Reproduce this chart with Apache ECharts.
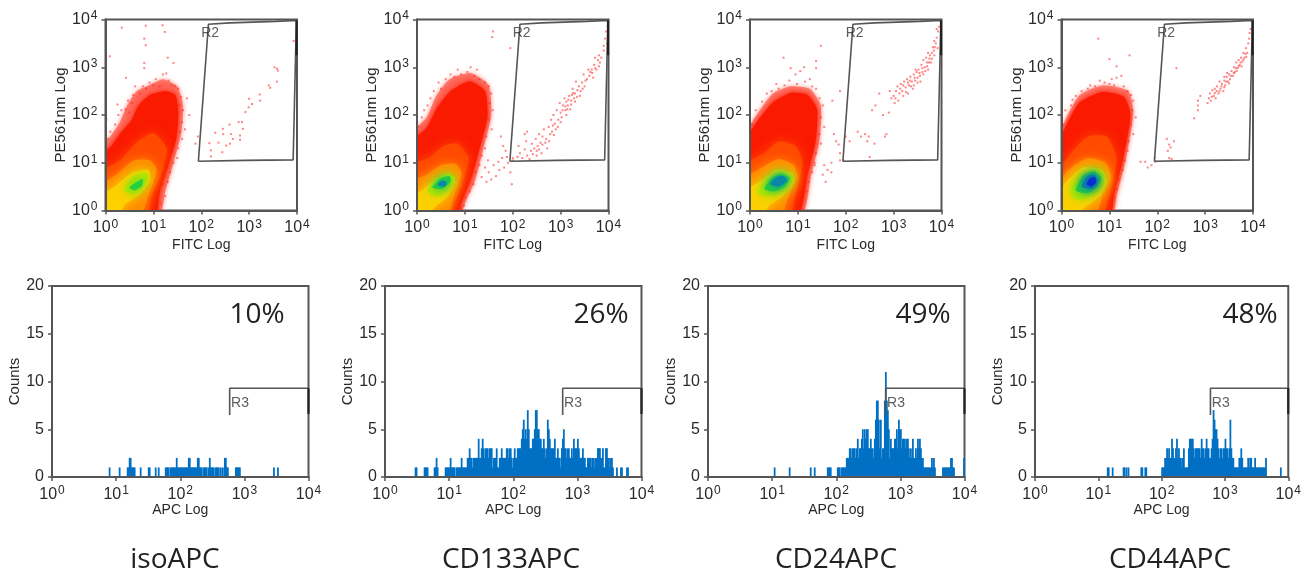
<!DOCTYPE html>
<html><head><meta charset="utf-8">
<style>html,body{margin:0;background:#fff}#c{width:1304px;height:571px;filter:blur(.45px)}</style>
<script src="https://cdn.jsdelivr.net/npm/echarts@6/dist/echarts.min.js"></script>
</head><body><div id="c"></div>
<script>
// ---- text
const captions=['isoAPC','CD133APC','CD24APC','CD44APC'];
const percents=['10%','26%','49%','48%'];
const decadeTicks=[1,10,100,1000,10000];
// ---- density bands, outermost first: [log10 FITC, log10 PE561nm]
const bandColors=['#ff3a28','#fa1a00','#ff4a00','#ff8c00','#fdd000','#b8e400','#22d040','#0a86a8','#0a30d0'];
const isoBands=[
[[-.1,-.1],[-.1,1.3],[.1,1.55],[.3,1.85],[.45,2.2],[.65,2.5],[.9,2.62],[1.2,2.75],[1.5,2.6],[1.62,2.2],[1.58,1.6],[1.42,1.0],[1.25,.4],[1.12,-.1]],
[[-.1,-.1],[-.1,1.12],[.13,1.36],[.30,1.6],[.55,1.9],[.69,2.2],[.93,2.42],[1.24,2.5],[1.46,2.42],[1.52,2.03],[1.47,1.47],[1.3,.91],[1.14,.42],[1.02,-.1]],
[[-.1,-.1],[-.1,.78],[.3,1.05],[.65,1.42],[1.0,1.62],[1.28,1.3],[1.18,.8],[.95,.28],[.88,-.1]],
[[-.1,-.1],[-.1,.5],[.27,.78],[.6,1.05],[.93,1.05],[1.07,.84],[.93,.42],[.72,-.1]],
[[-.1,-.1],[-.1,.28],[.25,.55],[.58,.8],[.9,.85],[.93,.62],[.72,.34],[.42,.14],[.25,-.1]],
[[.38,.42],[.55,.66],[.8,.8],[.9,.7],[.75,.45],[.55,.35]],
[[.5,.48],[.66,.6],[.78,.66],[.76,.52],[.6,.42]]];
const cd133Bands=[
[[-.1,-.1],[-.1,1.62],[.2,1.95],[.4,2.4],[.68,2.75],[1.12,2.88],[1.5,2.62],[1.55,2.0],[1.4,1.35],[1.22,.65],[1.0,.15],[.9,-.1]],
[[-.1,-.1],[-.1,1.45],[.2,1.72],[.42,2.15],[.7,2.5],[1.1,2.7],[1.42,2.5],[1.47,1.95],[1.32,1.35],[1.14,.7],[.94,.2],[.82,-.1]],
[[-.1,-.1],[-.1,.95],[.25,1.1],[.55,1.35],[.85,1.4],[1.08,1.1],[.95,.6],[.78,.15],[.7,-.1]],
[[-.1,-.1],[-.1,.6],[.2,.75],[.5,.95],[.8,.98],[.93,.8],[.8,.4],[.62,-.1]],
[[-.1,-.1],[-.1,.3],[.15,.45],[.4,.68],[.7,.75],[.8,.6],[.65,.3],[.4,.1],[.2,-.1]],
[[.22,.4],[.4,.65],[.65,.78],[.8,.68],[.62,.42],[.4,.3]],
[[.32,.48],[.48,.66],[.68,.72],[.7,.6],[.52,.45]],
[[.43,.53],[.5,.62],[.62,.6],[.58,.5]]];
const cd24Bands=[
[[-.1,-.1],[-.1,1.58],[.15,2.02],[.48,2.45],[.85,2.6],[1.25,2.55],[1.48,2.2],[1.45,1.45],[1.28,.75],[1.08,-.1]],
[[-.1,-.1],[-.1,1.45],[.15,1.86],[.48,2.26],[.85,2.46],[1.2,2.42],[1.4,2.12],[1.37,1.45],[1.2,.75],[1.0,-.1]],
[[-.1,-.1],[-.1,.95],[.3,1.2],[.6,1.45],[.95,1.35],[1.1,1.0],[.98,.5],[.82,-.1]],
[[-.1,-.1],[-.1,.65],[.25,.9],[.6,1.08],[.92,.95],[.98,.7],[.8,.3],[.65,-.1]],
[[-.1,-.1],[-.1,.4],[.2,.6],[.55,.85],[.88,.78],[.92,.6],[.7,.32],[.42,.12],[.25,-.1]],
[[.15,.38],[.38,.68],[.62,.82],[.9,.72],[.85,.55],[.6,.37],[.32,.3]],
[[.3,.45],[.45,.68],[.65,.77],[.83,.68],[.72,.5],[.5,.4]],
[[.42,.55],[.55,.7],[.7,.72],[.78,.63],[.6,.5]]];
const cd44Bands=[
[[-.1,-.1],[-.1,1.42],[.12,1.98],[.38,2.42],[.85,2.62],[1.4,2.5],[1.5,2.05],[1.35,1.1],[1.15,.3],[1.05,-.1]],
[[-.1,-.1],[-.1,1.3],[.12,1.82],[.38,2.26],[.85,2.48],[1.3,2.38],[1.44,2.0],[1.29,1.1],[1.1,.35],[1.0,-.1]],
[[-.1,-.1],[-.1,.75],[.2,1.2],[.55,1.55],[.95,1.55],[1.15,1.1],[1.05,.55],[.85,-.1]],
[[-.1,-.1],[-.1,.5],[.15,.85],[.55,1.1],[.92,1.0],[1.03,.7],[.85,.3],[.7,-.1]],
[[-.05,-.1],[-.1,.25],[.1,.6],[.45,.9],[.85,.85],[.95,.6],[.8,.3],[.5,.08],[.3,-.1]],
[[.18,.4],[.4,.72],[.68,.88],[.9,.75],[.85,.5],[.6,.3],[.32,.22]],
[[.3,.42],[.45,.72],[.68,.82],[.83,.68],[.75,.5],[.55,.36]],
[[.42,.5],[.52,.7],[.68,.76],[.76,.62],[.65,.46]],
[[.52,.55],[.6,.68],[.7,.7],[.72,.58],[.62,.5]]];
// ---- individual events, [log10 FITC, log10 PE561nm]
const isoEvents=[[.34,3.83],[.84,3.87],[1.19,3.88],[1.24,3.74],[.81,3.6],[.84,3.46],[.81,3.09],[.81,2.98],[.09,3.23],[1.3,3.2],[1.42,3.09],[.43,2.78],
[.05,1.5],[.02,1.9],[.1,1.65],[.2,1.8],[.27,2.0],[.25,2.22],[.33,2.1],[.42,2.12],[.47,2.3],[.55,2.25],[.58,2.42],[.62,2.6],[.5,2.05],[.72,2.45],[.78,2.6],[.85,2.55],[.92,2.68],[1.0,2.62],[1.05,2.75],[1.13,2.6],[1.2,2.85],[1.27,2.87],[1.32,2.72],[1.38,2.62],[1.45,2.6],[1.52,2.55],[1.58,2.38],[1.55,2.2],[1.62,2.1],[1.7,2.35],[1.75,2.0],[1.6,1.85],[1.66,1.7],[1.55,1.65],[1.6,1.5],[1.52,1.3],[1.5,1.1],[1.42,1.0],[1.35,.8],[1.3,.6],[1.2,.55],[1.25,.3],[1.15,.15],[1.1,.05],[1.88,1.4],[1.93,1.55],
[3.93,3.55],[3.53,3.0],[3.58,2.97],[3.6,2.93],[3.58,2.7],[3.41,2.62],[3.44,2.57],[3.22,2.43],[3.23,2.3],[3.0,2.34],[3.06,2.23],[2.99,2.16],[2.92,2.06],[2.78,1.85],[2.85,1.85],[2.87,1.71],[2.59,1.8],[2.45,1.71],[2.46,1.6],[2.29,1.63],[2.62,1.6],[2.66,1.5],[2.81,1.57],[2.81,1.48],[2.17,1.41],[2.36,1.42],[2.52,1.36],[2.6,1.4],[2.2,1.26],[2.44,1.22],[2.2,1.13]];
const cd133Events=[[1.59,3.75],[1.57,3.63],[1.95,3.4],[1.12,3.0],[1.25,2.95],[1.05,2.9],[.85,2.95],[.7,2.85],[.6,2.75],[.45,2.68],[.35,2.5],[.28,2.35],[.22,2.2],[.15,2.1],[.1,1.95],[.03,1.75],[.5,2.55],[.78,2.8],[.92,2.85],[1.2,2.82],[1.3,2.75],[1.42,2.68],[1.5,2.6],[1.55,2.45],[1.52,2.25],[1.58,2.1],[1.5,1.9],[1.56,1.7],[1.45,1.55],[1.42,1.3],[1.35,1.15],[1.3,.95],[1.22,.8],[1.18,.55],[1.1,.4],[1.0,.28],[.98,.1],[.92,.05],
[1.8,1.35],[1.75,1.55],[1.85,1.25],[1.6,.95],[1.5,.8],[1.55,.65],[1.65,.72],[1.72,.85],[1.82,.9],[1.9,1.0],[1.95,.8],[2.0,1.05],[1.98,.55],[1.45,.6],[1.35,.7],[1.42,.9],[1.48,1.05],[1.7,1.02],[1.78,1.1],[1.88,1.12],
[2.0,1.1],[2.1,1.12],[2.15,1.2],[2.2,1.1],[2.12,1.35],[2.25,1.28],[2.28,1.45],[2.3,1.65],[2.25,1.6],[2.3,1.15],[2.38,1.25],[2.4,1.4],[2.42,1.18],[2.48,1.5],[2.5,1.25],[2.52,1.35],[2.55,1.6],[2.58,1.42],[2.6,1.2],[2.62,1.55],[2.65,1.7],[2.7,1.5],[2.72,1.3],[2.75,1.75],[2.78,1.6],[2.8,1.9],[2.82,1.65],[2.85,2.0],[2.88,1.82],[2.9,1.7],[2.92,2.1],[2.95,1.9],[2.98,2.25],[3.0,2.05],[3.02,1.95],[3.05,2.2],[3.08,2.35],[3.1,2.1],[3.12,2.28],[3.15,2.2],[3.18,2.4],[3.2,2.12],[3.22,2.3],[3.25,2.55],[3.28,2.35],[3.3,2.45],[3.32,2.7],[3.35,2.52],[3.38,2.6],[3.4,2.4],[3.45,2.68],[3.48,2.85],[3.5,2.6],[3.55,2.75],[3.58,2.95],[3.62,2.9],[3.68,2.78],[3.7,3.05],[3.75,2.95],[3.78,3.15],[3.82,3.1],[3.72,3.2],[3.85,3.2],[3.9,3.45],[3.93,3.6],[3.95,3.75],[3.9,3.35],[3.98,3.85],[3.97,3.5],
[2.35,1.08],[2.45,1.3],[2.55,1.28],[2.5,1.15],[2.68,1.42],[2.62,1.38],[2.76,1.45],[2.84,1.78],[2.86,1.58],[2.94,1.75],[3.0,1.85],[3.04,2.1],[3.1,2.18],[3.14,2.12],[3.16,2.32],[3.22,2.22],[3.24,2.42],[3.3,2.28],[3.34,2.38],[3.42,2.5],[3.46,2.55],[3.52,2.72],[3.6,2.82],[3.65,2.95],[3.66,2.88],[3.72,2.98],[3.8,3.02],[3.8,3.25],[3.26,2.46],[3.12,2.0]];
const cd24Events=[[.7,3.2],[1.48,3.45],[1.38,3.13],[1.38,2.98],[1.13,3.0],[1.05,2.92],[.95,2.85],[.85,2.98],[.82,2.72],[.55,2.65],[.6,2.55],[.35,2.45],[.25,2.28],[.12,2.1],[.05,1.8],[.45,2.5],[.72,2.62],[.98,2.65],[1.15,2.7],[1.25,2.75],[1.3,2.6],[1.38,2.55],[1.45,2.35],[1.52,2.2],[1.48,1.95],[1.55,1.75],[1.45,1.6],[1.48,1.4],[1.38,1.2],[1.35,.95],[1.3,.8],[1.22,.6],[1.18,.4],[1.1,.2],[1.05,.05],[1.72,2.3],[1.75,1.6],[1.8,1.45],[1.85,1.38],[1.7,1.0],[1.7,.8],[1.62,.85],[1.52,.75],[1.58,.6],[1.55,.95],[1.35,1.0],[1.88,1.2],[1.88,1.05],[1.95,1.05],[1.88,2.5],
[2.5,1.12],[2.45,1.45],[2.4,1.6],[2.32,1.55],[2.25,1.65],[2.48,1.55],[2.6,1.4],[2.82,1.55],[2.85,1.6],[2.55,2.1],[2.62,2.2],[2.7,2.45],[2.78,2.0],[2.9,2.05],[2.95,2.35],[2.92,2.5],[2.08,1.45],[2.0,1.55],
[3.0,2.4],[3.02,2.25],[3.05,2.5],[3.08,2.6],[3.1,2.3],[3.12,2.45],[3.15,2.65],[3.18,2.5],[3.2,2.4],[3.22,2.7],[3.25,2.58],[3.28,2.75],[3.3,2.45],[3.32,2.62],[3.35,2.8],[3.38,2.7],[3.4,2.55],[3.42,2.85],[3.45,2.72],[3.48,2.9],[3.5,2.78],[3.52,2.95],[3.55,2.82],[3.58,3.05],[3.6,2.9],[3.62,3.15],[3.65,3.0],[3.68,3.2],[3.7,3.1],[3.72,3.3],[3.75,3.18],[3.78,3.1],[3.8,3.3],[3.82,3.42],[3.85,3.25],[3.88,3.5],[3.9,3.62],[3.92,3.4],[3.93,3.75],[3.95,3.85],[3.9,3.8],[3.85,3.55],
[3.04,2.35],[3.14,2.55],[3.2,2.62],[3.26,2.48],[3.3,2.68],[3.36,2.6],[3.42,2.62],[3.44,2.78],[3.5,2.68],[3.54,2.88],[3.56,2.7],[3.6,2.98],[3.62,2.85],[3.66,2.92],[3.7,3.02],[3.72,2.95],[3.74,3.1],[3.76,3.25],[3.8,3.18],[3.84,3.35],[3.86,3.42],[3.46,2.95],[3.34,2.72]];
const cd44Events=[[.77,3.6],[1.42,3.25],[1.0,3.17],[1.15,3.02],[.8,2.72],[1.05,2.75],[1.15,2.78],[1.25,2.82],[.7,2.6],[.55,2.55],[.42,2.5],[.23,2.32],[.2,2.2],[.08,2.1],[.04,1.8],[.3,2.4],[.6,2.62],[.9,2.68],[1.0,2.65],[1.1,2.62],[1.3,2.6],[1.38,2.5],[1.45,2.42],[1.5,2.3],[1.48,2.1],[1.55,1.95],[1.45,1.8],[1.5,1.6],[1.4,1.45],[1.38,1.25],[1.32,1.05],[1.28,.85],[1.2,.65],[1.15,.45],[1.1,.28],[1.02,.12],[1.65,1.02],[1.75,1.02],[1.8,.9],[1.88,.95],[1.96,1.02],[1.95,1.1],
[2.2,1.5],[2.25,1.38],[2.22,1.25],[2.28,1.32],[2.3,1.08],[2.25,1.1],[2.35,1.45],[2.4,2.98],[2.77,1.93],[2.85,2.2],[2.85,2.1],[2.85,2.3],[2.9,2.4],
[3.05,2.25],[3.08,2.35],[3.1,2.45],[3.12,2.3],[3.15,2.52],[3.18,2.4],[3.2,2.55],[3.22,2.35],[3.25,2.6],[3.28,2.45],[3.3,2.7],[3.32,2.55],[3.35,2.65],[3.38,2.5],[3.4,2.72],[3.42,2.62],[3.45,2.8],[3.48,2.7],[3.5,2.85],[3.52,2.75],[3.55,2.92],[3.58,2.82],[3.6,3.0],[3.62,2.9],[3.65,3.1],[3.68,2.98],[3.7,3.15],[3.72,3.05],[3.75,3.2],[3.78,3.12],[3.8,3.3],[3.82,3.2],[3.85,3.4],[3.88,3.3],[3.9,3.5],[3.92,3.6],[3.93,3.72],[3.95,3.8],
[3.14,2.38],[3.2,2.46],[3.24,2.5],[3.3,2.5],[3.34,2.6],[3.4,2.58],[3.44,2.7],[3.5,2.66],[3.54,2.82],[3.6,2.88],[3.64,2.98],[3.66,2.92],[3.7,3.02],[3.74,3.1],[3.76,3.02],[3.8,3.16],[3.84,3.28],[3.86,3.22],[3.4,2.8],[3.46,2.88]];
// ---- R2 gate, log10 coordinates, and the heavy top of its right edge
const r2Gate=[[1.94,1.03],[2.15,3.9],[2.6,3.93],[3.55,3.96],[3.99,3.98],[3.97,3.25],[3.92,1.06],[2.92,1.05],[1.94,1.03]];
const r2Heavy=[[3.99,3.98],[3.99,3.25]];
// ---- histograms: first channel of 256 (64 per decade), then counts per channel
const isoFirst=57, isoCounts=[1,0,0,0,0,0,0,0,0,0,1,0,0,0,0,0,0,0,1,1,2,2,1,1,1,1,0,0,0,0,0,1,0,0,0,0,0,0,0,1,1,0,0,0,0,0,1,0,0,1,0,0,0,0,0,0,1,1,1,1,0,1,1,1,1,1,1,2,1,1,1,1,1,1,1,1,1,1,1,2,2,1,1,1,1,1,1,1,2,2,1,1,1,0,1,1,1,1,0,1,2,1,1,1,1,0,1,1,1,1,0,1,0,1,0,2,2,1,1,0,0,0,0,0,0,0,1,1,1,1,1,0,0,0,0,0,0,0,0,0,0,0,0,0,0,0,0,0,0,0,0,0,0,0,0,0,0,0,0,0,0,0,0,0,1,0,0,0,1];
const cd133First=30, cd133Counts=[1,1,0,0,0,0,0,0,0,1,1,1,1,0,0,0,0,0,0,1,1,2,1,0,0,0,0,0,0,0,1,1,1,1,1,2,1,1,1,1,0,1,1,1,1,1,2,1,1,1,1,1,2,2,3,2,2,1,2,2,2,2,2,4,2,2,3,4,3,2,3,3,3,2,3,3,3,1,2,2,2,3,1,1,2,2,3,2,2,2,2,3,3,2,3,3,2,1,2,3,2,2,3,3,3,3,4,5,6,4,5,4,7,5,3,3,3,4,4,5,7,7,5,5,4,4,3,3,4,3,2,3,6,5,4,3,3,3,3,4,2,2,3,2,2,1,3,4,5,3,3,2,3,3,2,2,3,2,4,3,3,3,4,3,2,2,2,3,2,2,1,1,2,2,2,2,1,2,2,1,2,2,3,3,3,2,2,3,1,1,3,3,2,2,1,2,2,1,0,0,0,1,0,0,0,1,1,0,0,0,0,1,1];
const cd24First=66, cd24Counts=[1,0,0,0,0,0,0,0,0,0,0,0,0,0,0,1,0,0,0,0,0,0,0,0,0,0,0,0,0,0,0,0,0,0,0,0,1,0,0,0,1,0,0,0,0,0,0,0,0,0,0,0,0,1,1,1,1,0,0,0,0,0,0,1,1,1,0,1,1,1,1,1,2,2,2,3,3,2,3,3,3,2,3,4,2,3,3,4,5,3,5,4,5,5,3,3,4,3,3,2,4,6,8,8,6,3,6,2,3,3,8,11,8,7,5,2,4,3,3,3,4,4,5,3,6,5,5,3,4,4,4,3,4,4,3,2,3,2,4,2,2,3,2,4,3,4,3,2,2,1,1,1,1,1,1,1,1,2,1,2,1,0,0,0,0,0,0,0,1,1,1,1,1,1,1,1,2,2,1,1,0,0,0,0,0,0,0,0,0,2];
const cd44First=73, cd44Counts=[1,1,0,0,0,1,0,0,0,0,0,0,0,0,0,0,1,1,0,1,0,1,0,0,0,0,0,0,0,0,0,0,0,0,1,1,0,0,1,1,0,0,0,0,0,0,0,0,0,0,0,0,0,0,0,1,1,1,2,2,3,2,3,2,2,4,3,2,2,3,4,2,3,2,2,1,2,3,1,1,1,1,3,4,4,4,4,3,2,3,3,3,3,3,2,4,3,3,2,3,4,3,3,2,2,3,4,7,6,5,5,4,3,2,3,3,2,3,3,4,3,3,2,3,6,3,2,2,1,1,1,1,1,2,2,3,2,1,1,1,1,1,2,1,2,2,1,1,1,2,1,1,1,1,1,1,1,1,1,1,2,0,0,0,0,0,0,0,0,0,0,0,0,0,0,1];
// ---- R3 gate in data units
const r3Gate=[[590,6.5],[590,9.3],[10000,9.3]];
const r3Heavy=[[10000,9.3],[10000,6.6]];
const r3Label=[[620,7.7]];
const r2Label=[[2.0,3.72]];

const topBands=[isoBands,cd133Bands,cd24Bands,cd44Bands];
const topEvents=[isoEvents,cd133Events,cd24Events,cd44Events];
const firsts=[isoFirst,cd133First,cd24First,cd44First];
const counts=[isoCounts,cd133Counts,cd24Counts,cd44Counts];
const topLeft=[105.5,417,750,1061.5], topW=191.5, topY=19.5, topH=191;
const botLeft=[52,385,708,1035], botW=256.5, botY=286, botH=191;
const pctX=[257,601,923,1250], capX=[175,511,836,1170];

const dec=p=>[Math.pow(10,p[0]),Math.pow(10,p[1])];
const AX='#555', TX='#2a2a2a', FF='"Liberation Sans",Arial,sans-serif';
const powLabel=v=>'{b|10}{s|'+Math.round(Math.log10(v))+'}';
const rich={b:{fontSize:16,color:TX,fontFamily:FF},s:{fontSize:12,color:TX,fontFamily:FF,padding:[0,0,7,1]}};
const logAxis=(g,dim,name,gap)=>({type:'log',logBase:10,min:decadeTicks[0],max:decadeTicks[4],gridIndex:g,z:6,
  name,nameLocation:'middle',nameGap:gap,nameTextStyle:{fontSize:dim==='y'?15:14,color:TX,fontFamily:FF},
  axisLine:{show:true,lineStyle:{color:AX,width:2}},axisTick:{show:true,length:4,lineStyle:{color:AX,width:1.5}},
  minorTick:{show:false},minorSplitLine:{show:false},splitLine:{show:false},
  axisLabel:{formatter:powLabel,rich,margin:8,hideOverlap:false,showMinLabel:true,showMaxLabel:true}});
const grids=[],xAxes=[],yAxes=[],series=[],titles=[];
const line=(g,data,color,width)=>({type:'line',xAxisIndex:g,yAxisIndex:g,data,showSymbol:false,silent:true,z:5,clip:false,lineStyle:{color,width}});
const tag=(g,data,text)=>({type:'scatter',xAxisIndex:g,yAxisIndex:g,data,symbolSize:0,silent:true,z:7,
  label:{show:true,formatter:text,position:'right',distance:0,fontSize:14,color:'#333',fontFamily:FF}});

captions.forEach((cap,i)=>{
  // top density plot
  grids.push({left:topLeft[i],top:topY,width:topW,height:topH,show:true,borderColor:AX,borderWidth:2,backgroundColor:'#fff'});
  xAxes.push(logAxis(i,'x','FITC Log',28));
  yAxes.push(logAxis(i,'y','PE561nm Log',34));
  topBands[i].forEach((band,k)=>{
    const pts=band.map(dec), color=bandColors[k];
    series.push({type:'custom',xAxisIndex:i,yAxisIndex:i,clip:true,silent:true,z:2+k*0.01,data:pts,
      renderItem:(p,api)=>p.dataIndex!==0?null:({type:'polygon',
        shape:{points:pts.map(q=>api.coord(q)),smooth:0.2},
        style:k===0?{fill:color,opacity:.55,shadowBlur:5,shadowColor:color}:{fill:color,shadowBlur:k<2?4:11,shadowColor:color}})});
  });
  series.push({type:'scatter',xAxisIndex:i,yAxisIndex:i,symbol:'rect',symbolSize:2,silent:true,z:3,data:topEvents[i].map(dec),itemStyle:{color:'#ff2020',opacity:.55}});
  series.push(line(i,r2Gate.map(dec),'#555',1.6));
  series.push(line(i,r2Heavy.map(dec),'#222',2.2));
  series.push(tag(i,r2Label.map(dec),'R2'));
});
captions.forEach((cap,i)=>{
  const g=i+4;
  grids.push({left:botLeft[i],top:botY,width:botW,height:botH,show:true,borderColor:AX,borderWidth:2,backgroundColor:'#fff'});
  xAxes.push(logAxis(g,'x','APC Log',26));
  yAxes.push({type:'value',min:0,max:20,interval:5,gridIndex:g,z:6,name:'Counts',nameLocation:'middle',nameGap:27,
    nameTextStyle:{fontSize:15,color:TX,fontFamily:FF},axisLine:{show:true,lineStyle:{color:AX,width:2}},
    axisTick:{show:true,length:4,lineStyle:{color:AX,width:1.5}},splitLine:{show:false},
    axisLabel:{fontSize:16,color:TX,fontFamily:FF,margin:8}});
  const bars=counts[i].map((c,k)=>[Math.pow(10,(firsts[i]+k+.5)/64),c]).filter(d=>d[1]>0);
  series.push({type:'bar',xAxisIndex:g,yAxisIndex:g,data:bars,barWidth:1.8,silent:true,z:3,itemStyle:{color:'#0070c4'},animation:false});
  series.push(line(g,r3Gate,'#555',1.6));
  series.push(line(g,r3Heavy,'#222',2.2));
  series.push(tag(g,r3Label,'R3'));
  titles.push({text:percents[i],left:pctX[i],top:315,padding:0,textAlign:'center',textVerticalAlign:'middle',textStyle:{fontSize:28,fontWeight:'normal',color:'#222',fontFamily:'"Open Sans"'}});
  titles.push({text:cap,left:capX[i],top:560,padding:0,textAlign:'center',textVerticalAlign:'middle',textStyle:{fontSize:28,fontWeight:'normal',color:'#222',fontFamily:'"Open Sans"'}});
});
echarts.init(document.getElementById('c'),null,{renderer:'canvas'}).setOption({animation:false,backgroundColor:'#fff',title:titles,grid:grids,xAxis:xAxes,yAxis:yAxes,series,tooltip:{show:false},legend:{show:false}});
</script></body></html>
